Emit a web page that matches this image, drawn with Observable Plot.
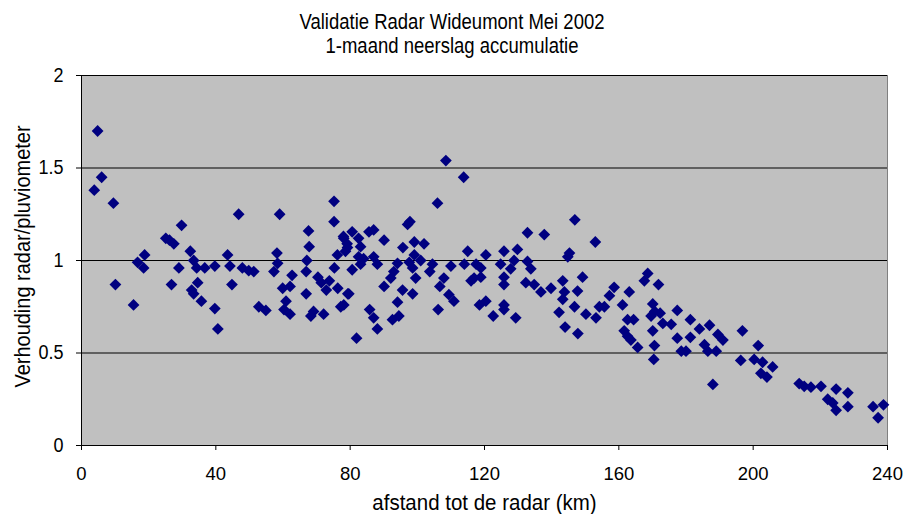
<!DOCTYPE html>
<html>
<head>
<meta charset="utf-8">
<script src="https://cdn.jsdelivr.net/npm/d3@7"></script>
<script src="https://cdn.jsdelivr.net/npm/@observablehq/plot@0.6"></script>
<style>
  html, body { margin: 0; padding: 0; background: #fff; }
  #title { width: 904px; height: 60px; box-sizing: border-box; padding-top: 10px;
           font-family: "Liberation Sans", Arial, sans-serif; font-size: 18.5px; line-height: 24px;
           text-align: center; color: #000; }
  #title span { display: block; transform: scaleY(1.15); }
  #chart svg { display: block; }
</style>
</head>
<body>
<div id="title"><span id="t1"></span><span id="t2"></span></div>
<div id="chart"></div>
<script>
const titleText = "Validatie Radar Wideumont Mei 2002";
const subtitleText = "1-maand neerslag accumulatie";
const xLabel = "afstand tot de radar (km)";
const yLabel = "Verhouding radar/pluviometer";
const xTicks = [0, 40, 80, 120, 160, 200, 240];
const yTicks = [0, 0.5, 1, 1.5, 2];
const gridValues = [0.5, 1, 1.5, 2];

// distance to the radar (km)
const distance = [
  4.8, 6.0, 3.8, 9.5, 29.8, 25.1, 26.2, 27.5, 32.4, 33.4, 18.8, 16.7, 18.5, 29.0, 34.3, 36.7,
  10.1, 26.8, 34.6, 33.4, 15.5, 35.7, 40.6, 32.8,
  75.2, 46.8, 59.0, 75.2, 67.6, 67.8, 78.1, 79.2, 76.2, 43.5, 58.2, 67.1, 58.4, 39.7, 44.2, 47.9,
  49.8, 51.3, 57.3, 62.7, 66.9, 75.3, 44.8, 59.9, 62.1, 70.4, 71.4, 73.8, 72.9, 76.3, 66.9, 79.3,
  39.7, 52.8, 54.9, 60.9, 60.3, 62.1, 68.3, 69.1, 72.1, 78.1,
  108.5, 113.8, 106.0, 97.1, 97.8, 87.0, 85.6, 80.6, 78.0, 82.5, 90.1, 79.1, 83.1, 99.1, 102.0, 95.7,
  115.0, 78.6, 82.5, 84.0, 87.0, 88.1, 99.1, 101.0, 97.6, 94.1, 83.1, 80.6, 104.5, 110.0, 114.0, 117.5,
  93.0, 98.6, 99.5, 103.7, 107.9, 106.7, 116.0, 90.1, 95.6, 98.6, 109.4, 110.9, 118.5, 79.6, 94.1, 85.8,
  87.0, 92.6, 94.5, 88.1, 106.2, 81.9, 92.1, 77.2,
  146.9, 132.8, 137.8, 153.0, 145.3, 144.8, 120.4, 125.8, 129.8, 128.8, 132.8, 118.9, 124.8, 127.8, 133.8, 116.9,
  118.9, 125.8, 125.8, 149.2, 132.3, 134.8, 136.8, 139.8, 143.3, 143.8, 147.7, 143.3, 146.8, 120.4, 125.8, 125.8,
  150.2, 153.2, 154.2, 155.7, 157.2, 122.6, 129.3, 142.2, 144.0, 147.8,
  168.6, 167.6, 171.8, 158.6, 163.1, 161.1, 170.1, 170.7, 172.3, 169.6, 177.4, 162.6, 164.4, 173.1, 170.1, 175.6,
  181.3, 184.0, 187.0, 161.6, 162.6, 163.6, 165.6, 170.6, 177.4, 181.3, 189.5, 191.0, 185.5, 186.5, 189.0, 178.6,
  180.0, 170.4, 196.8, 196.3, 188.0,
  201.5, 200.3, 202.8, 205.8, 202.3, 204.1, 213.7, 215.2, 217.2, 220.2, 224.7, 228.2, 222.2, 223.7, 228.2, 224.7,
  235.7, 238.8, 237.2
];

// ratio radar / rain gauge
const ratio = [
  1.70, 1.45, 1.38, 1.31, 1.19, 1.12, 1.11, 1.09, 1.05, 1.00, 1.03, 0.99, 0.96, 0.96, 0.96, 0.96,
  0.87, 0.87, 0.88, 0.82, 0.76, 0.78, 0.63, 0.84,
  1.32, 1.25, 1.25, 1.21, 1.16, 1.075, 1.12, 1.07, 1.03, 1.03, 1.04, 1.00, 0.985, 0.97, 0.97, 0.96,
  0.945, 0.94, 0.94, 0.92, 0.94, 0.96, 0.87, 0.85, 0.86, 0.91, 0.88, 0.89, 0.84, 0.85, 0.82, 0.82,
  0.74, 0.75, 0.73, 0.78, 0.735, 0.71, 0.70, 0.725, 0.71, 0.76,
  1.54, 1.45, 1.31, 1.195, 1.21, 1.165, 1.155, 1.155, 1.13, 1.12, 1.11, 1.09, 1.075, 1.10, 1.09, 1.07,
  1.05, 1.05, 1.02, 1.01, 1.02, 0.98, 1.03, 1.00, 0.99, 0.985, 0.98, 0.95, 0.98, 0.97, 0.98, 0.98,
  0.94, 0.96, 0.905, 0.94, 0.905, 0.86, 0.89, 0.86, 0.84, 0.82, 0.815, 0.78, 0.76, 0.82, 0.775, 0.735,
  0.69, 0.68, 0.70, 0.63, 0.735, 0.58, 0.905, 0.75,
  1.22, 1.15, 1.14, 1.10, 1.04, 1.02, 1.03, 1.05, 1.06, 1.00, 0.995, 0.96, 0.98, 0.955, 0.955, 0.905,
  0.91, 0.91, 0.87, 0.91, 0.88, 0.87, 0.83, 0.85, 0.89, 0.83, 0.835, 0.79, 0.75, 0.78, 0.76, 0.735,
  0.71, 0.69, 0.75, 0.75, 0.81, 0.70, 0.69, 0.72, 0.64, 0.605,
  0.93, 0.89, 0.87, 0.855, 0.83, 0.76, 0.765, 0.725, 0.715, 0.70, 0.73, 0.68, 0.68, 0.66, 0.62, 0.655,
  0.68, 0.63, 0.65, 0.62, 0.59, 0.57, 0.53, 0.54, 0.58, 0.585, 0.60, 0.57, 0.545, 0.51, 0.51, 0.51,
  0.51, 0.465, 0.62, 0.46, 0.33,
  0.54, 0.465, 0.45, 0.425, 0.39, 0.37, 0.335, 0.32, 0.315, 0.32, 0.305, 0.285, 0.25, 0.23, 0.21, 0.19,
  0.21, 0.22, 0.15
];

document.getElementById("t1").textContent = titleText;
document.getElementById("t2").textContent = subtitleText;

const data = distance.map((d, i) => ({distance: d, ratio: ratio[i]}));

const chart = Plot.plot({
  width: 904,
  height: 454,
  marginLeft: 81,
  marginRight: 17,
  marginTop: 15,
  marginBottom: 69,
  style: {fontFamily: "'Liberation Sans', Arial, sans-serif", fontSize: "18px", color: "#000", background: "#fff", overflow: "visible"},
  x: {domain: [0, 240]},
  y: {domain: [0, 2]},
  marks: [
    Plot.frame({fill: "#c0c0c0", stroke: "#808080"}),
    Plot.ruleY(gridValues, {stroke: "#000", strokeWidth: 1}),
    Plot.frame({anchor: "left", stroke: "#000"}),
    Plot.frame({anchor: "bottom", stroke: "#000"}),
    Plot.axisX({ticks: xTicks, tickSize: 5, tickPadding: 16.2, tickFormat: d => String(d), label: null, stroke: "#000", fontSize: 18.5}),
    Plot.axisY({ticks: yTicks, tickSize: 5, tickPadding: 13, tickFormat: d => String(d), label: null, stroke: "#000", fontSize: 18}),
    Plot.dot(data, {x: "distance", y: "ratio", symbol: "diamond2", r: 5.3, fill: "#000080", stroke: "none"}),
    Plot.text([xLabel], {text: d => d, frameAnchor: "bottom", lineAnchor: "bottom", dy: 64, fontSize: 20.5, fill: "#000"}),
    Plot.text([yLabel], {text: d => d, frameAnchor: "left", textAnchor: "middle", lineAnchor: "middle", dx: -59, dy: -4, rotate: -90, fontSize: 20, fill: "#000"})
  ]
});

// Vertically stretch glyphs slightly, as in the original rendering (x tick labels left as drawn)
chart.querySelectorAll("text").forEach(t => {
  const g = t.parentNode;
  const lab = (g && g.getAttribute && g.getAttribute("aria-label")) || "";
  if (lab === "x-axis tick label") return;
  const tr = t.getAttribute("transform");
  if (tr) t.setAttribute("transform", tr + " scale(1,1.12)");
});

document.getElementById("chart").appendChild(chart);
</script>
</body>
</html>
